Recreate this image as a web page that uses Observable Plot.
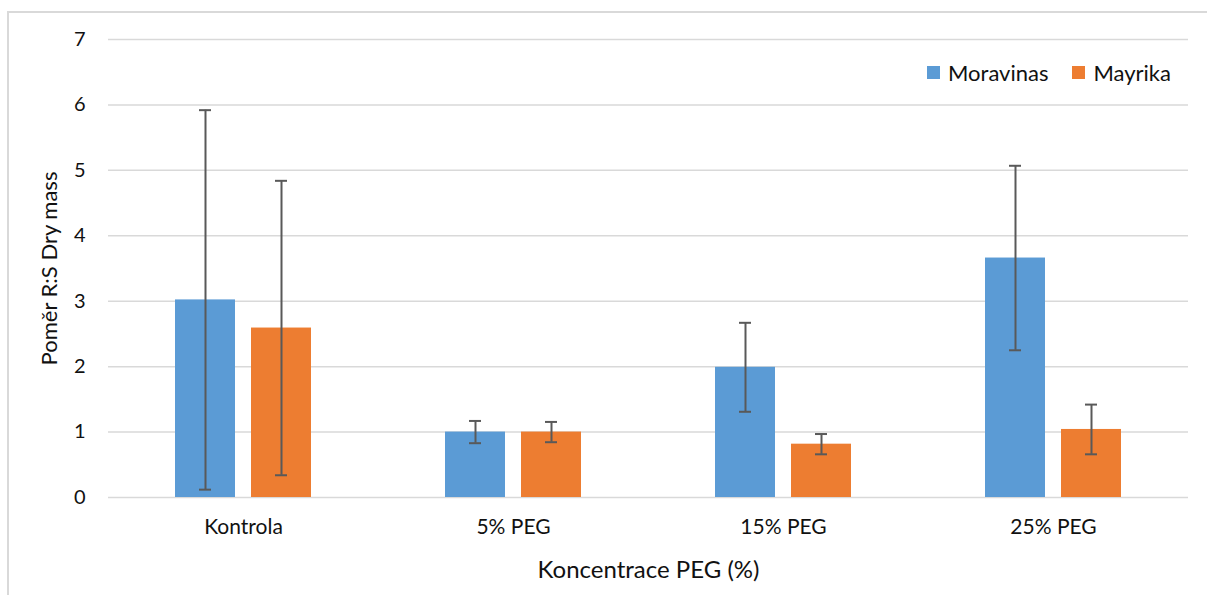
<!DOCTYPE html>
<html>
<head>
<meta charset="utf-8">
<script src="https://cdn.jsdelivr.net/npm/d3@7"></script>
<script src="https://cdn.jsdelivr.net/npm/@observablehq/plot@0.6"></script>
<style>
  html, body { margin: 0; padding: 0; background: #fff; }
  #wrap { position: relative; width: 1207px; height: 595px; overflow: hidden; font-family: Lato, "Open Sans", sans-serif; }
  #border { position: absolute; left: 7px; top: 11px; width: 1300px; height: 700px; border-left: 2px solid #d9d9d9; border-top: 2px solid #d9d9d9; }
  #legend { position: absolute; top: 59px; left: 927px; display: flex; align-items: center; font-size: 22px; color: #111; }
  #legend .sw { width: 13px; height: 13px; display: inline-block; margin-right: 8px; }
  #legend .item { display: flex; align-items: center; margin-right: 24px; }
</style>
</head>
<body>
<div id="wrap">
  <div id="border"></div>
  <div id="chart"></div>
  <div id="legend"></div>
</div>
<script>
const categories = ["Kontrola", "5% PEG", "15% PEG", "25% PEG"];
const series = ["Moravinas", "Mayrika"];
const colors = ["#5B9BD5", "#ED7D31"];
const moravinas = [3.02, 1.00, 1.99, 3.66];
const moravinasErr = [2.90, 0.17, 0.68, 1.41];
const mayrika = [2.59, 1.00, 0.815, 1.04];
const mayrikaErr = [2.25, 0.155, 0.155, 0.38];
const yTicks = [0, 1, 2, 3, 4, 5, 6, 7];

const rows = [];
categories.forEach((c, i) => {
  rows.push({cat: c, s: series[0], v: moravinas[i], e: moravinasErr[i]});
  rows.push({cat: c, s: series[1], v: mayrika[i], e: mayrikaErr[i]});
});

const chart = Plot.plot({
  width: 1207,
  height: 595,
  marginLeft: 108,
  marginRight: 19,
  marginTop: 39,
  marginBottom: 98,
  style: {fontFamily: "Lato, 'Open Sans', sans-serif", background: "transparent"},
  fx: {domain: categories, padding: 0, label: null},
  x: {domain: series, paddingInner: 0.21, paddingOuter: 0.87, axis: null},
  y: {domain: [0, 7], label: null},
  color: {domain: series, range: colors},
  marks: [
    Plot.ruleY(yTicks, {y: d => d, stroke: "#d9d9d9", strokeWidth: 1.5}),
    Plot.barY(rows, {fx: "cat", x: "s", y: "v", fill: "s"}),
    Plot.ruleX(rows, {fx: "cat", x: "s", y1: d => d.v - d.e, y2: d => d.v + d.e, stroke: "#595959", strokeWidth: 2}),
    Plot.tickY(rows, {fx: "cat", x: "s", y: d => d.v + d.e, stroke: "#595959", strokeWidth: 2, insetLeft: 24, insetRight: 24}),
    Plot.tickY(rows, {fx: "cat", x: "s", y: d => d.v - d.e, stroke: "#595959", strokeWidth: 2, insetLeft: 24, insetRight: 24}),
    Plot.axisY({ticks: yTicks, tickFormat: d => String(d), tickSize: 0, tickPadding: 23, fontSize: 20, color: "#111", label: null}),
    Plot.axisY({ticks: [], tickSize: 0, fontSize: 22, color: "#111", label: "Poměr R:S Dry mass", labelAnchor: "center", labelArrow: "none", labelOffset: 67}),
    Plot.axisFx({anchor: "bottom", tickSize: 0, tickPadding: 22, fontSize: 21, color: "#111", label: null}),
    Plot.axisFx({anchor: "bottom", ticks: [], tickSize: 0, fontSize: 24, color: "#111", label: "Koncentrace PEG (%)", labelAnchor: "center", labelArrow: "none", labelOffset: 80, dx: 17})
  ]
});
document.getElementById("chart").appendChild(chart);

const legend = document.getElementById("legend");
series.forEach((s, i) => {
  const item = document.createElement("div");
  item.className = "item";
  const sw = document.createElement("span");
  sw.className = "sw";
  sw.style.background = colors[i];
  item.appendChild(sw);
  item.appendChild(document.createTextNode(s));
  legend.appendChild(item);
});
</script>
</body>
</html>
